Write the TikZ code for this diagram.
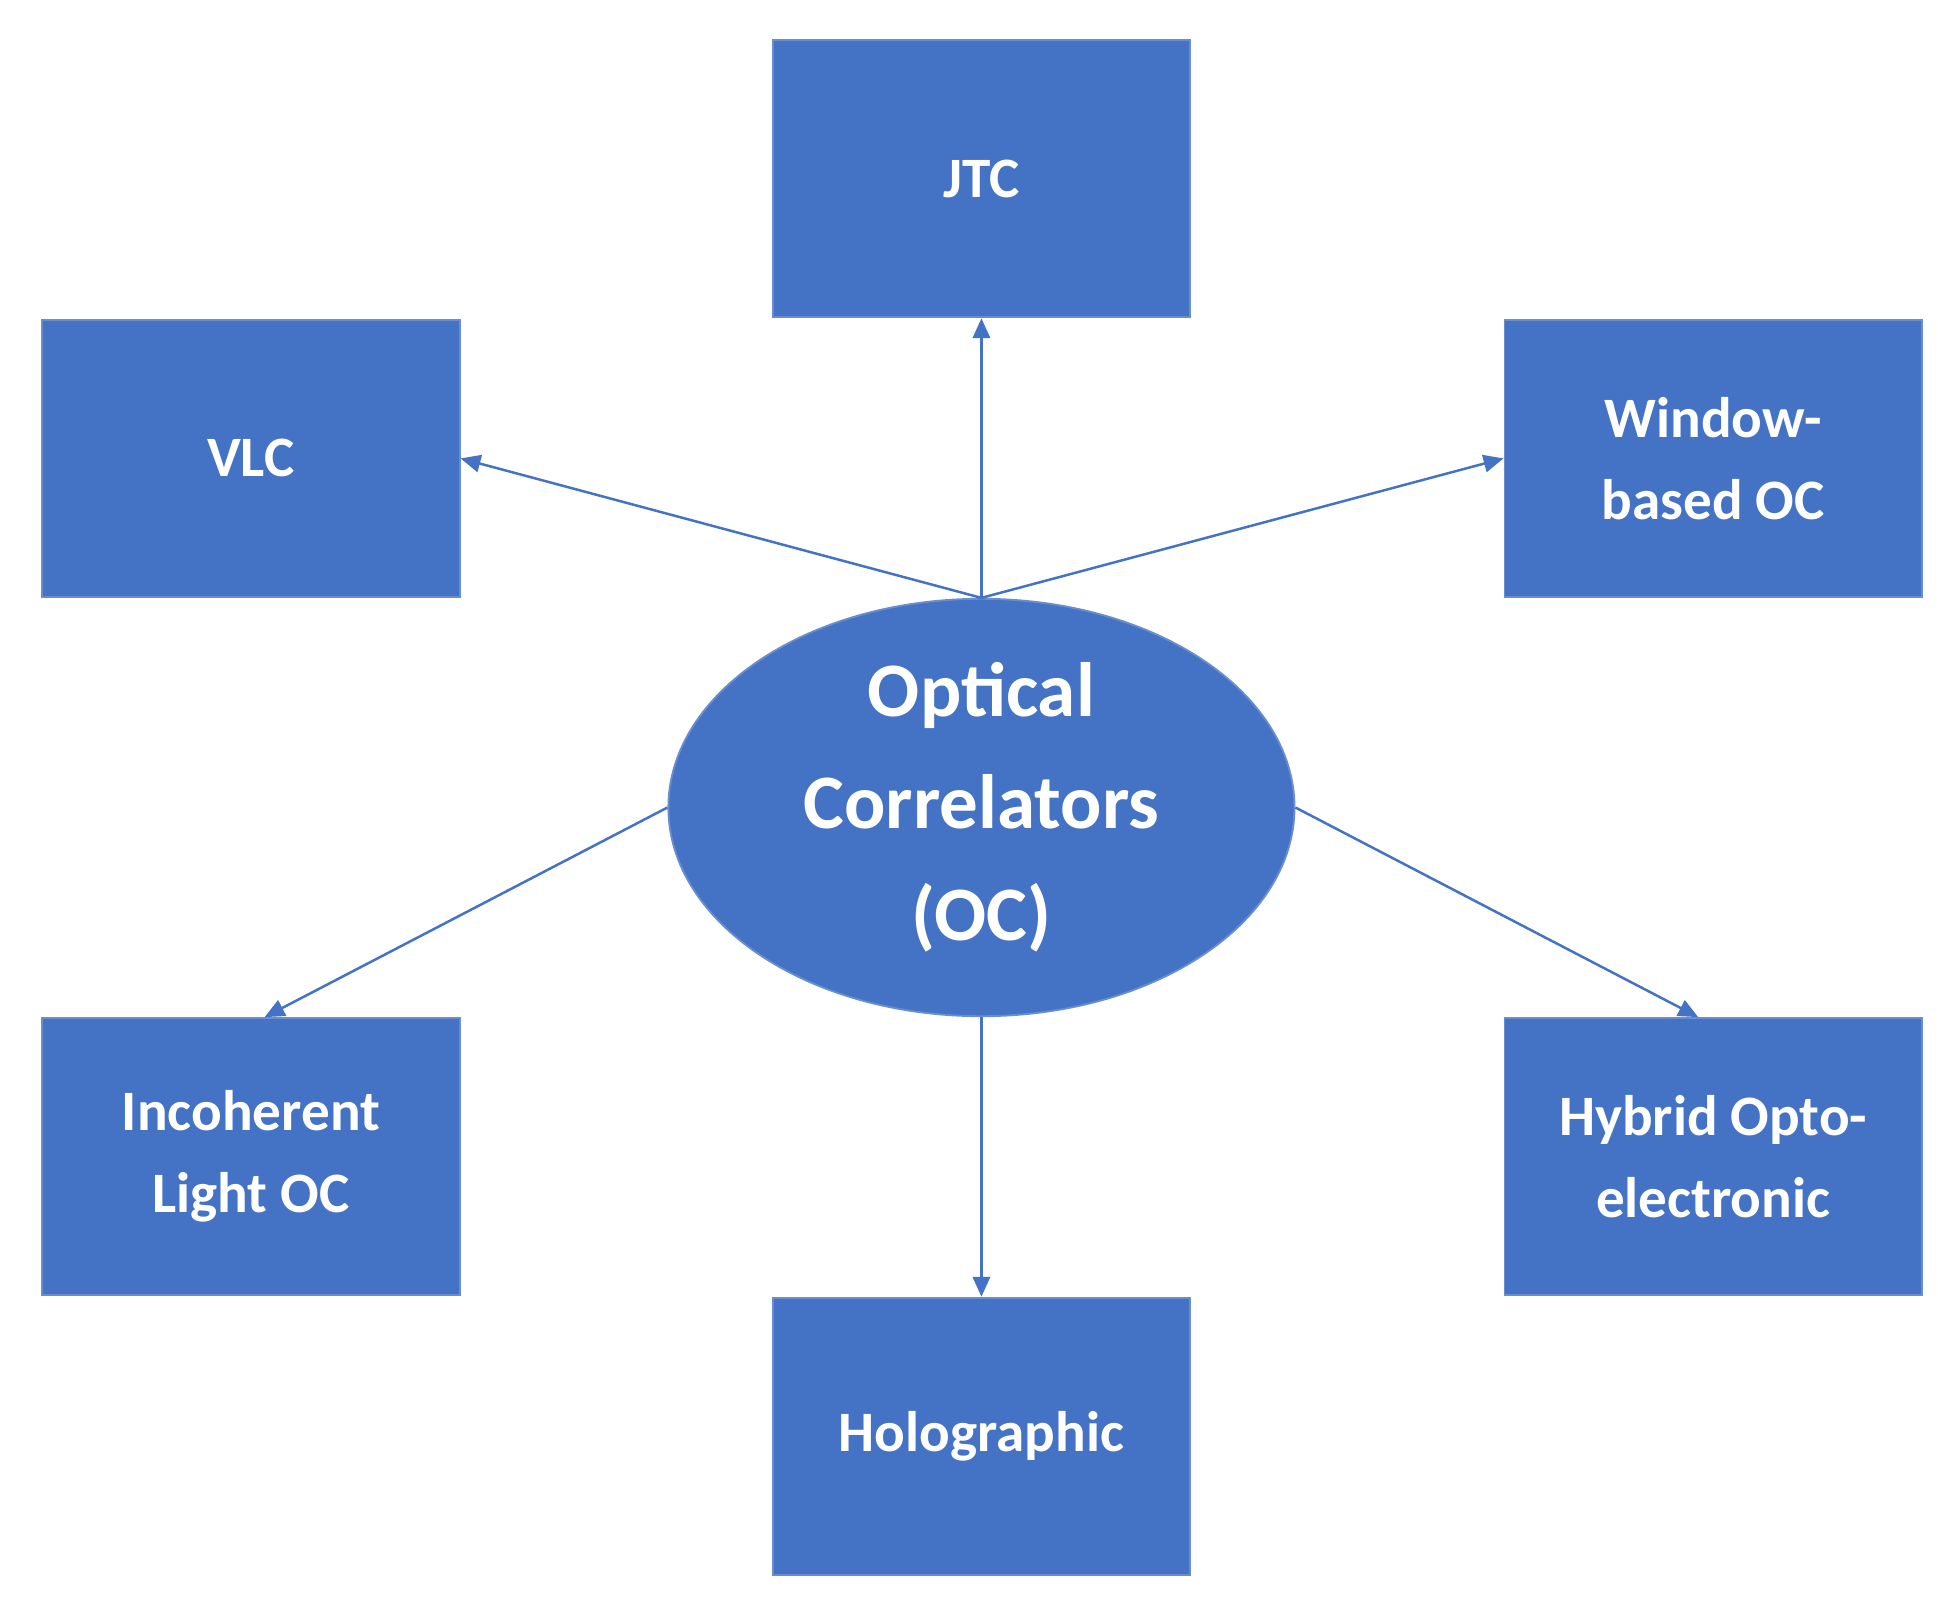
\documentclass[tikz,border=0pt]{standalone}
\usepackage{fontspec}
\setmainfont{Carlito}
\usetikzlibrary{shapes.geometric,arrows.meta}
\definecolor{ob}{HTML}{4472C4}
\begin{document}
\begin{tikzpicture}[x=1pt,y=-1pt,
  box/.style={draw=ob!80!white,line width=1.5pt,fill=ob,minimum width=336pt,minimum height=223pt,inner sep=0pt,align=center,text=white,font=\fontsize{46}{66}\selectfont\bfseries},
  arr/.style={draw=ob,line width=2pt,-{Triangle[length=16pt,width=14pt]}}]
\useasboundingbox (0,0) rectangle (1560,1287);
\node[box] (jtc) at (790,144) {JTC};
\node[box] (vlc) at (202,369) {VLC};
\node[box] (win) at (1379,369) {Window-\\based OC};
\node[box] (inc) at (202,931) {Incoherent\\Light OC};
\node[box] (hyb) at (1379,931) {Hybrid Opto-\\electronic};
\node[box] (hol) at (790,1156) {Holographic};
\node[ellipse,draw=ob!80!white,line width=1.5pt,fill=ob,minimum width=504pt,minimum height=336pt,inner sep=0pt,align=center,text=white,font=\fontsize{62}{90}\selectfont\bfseries] (oc) at (790,650) {Optical\\Correlators\\(OC)};
\draw[arr] (oc.north) -- (jtc.south);
\draw[arr] (oc.north) -- (vlc.east);
\draw[arr] (oc.north) -- (win.west);
\draw[arr] (oc.west) -- ([xshift=11pt]inc.north);
\draw[arr] (oc.east) -- ([xshift=-12pt]hyb.north);
\draw[arr] (oc.south) -- (hol.north);
\end{tikzpicture}
\end{document}
